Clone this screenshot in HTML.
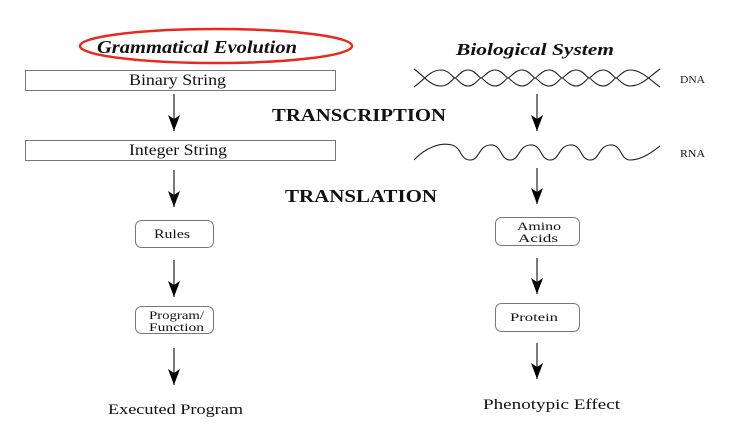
<!DOCTYPE html>
<html><head><style>
body{margin:0;background:#fff;width:748px;height:435px;overflow:hidden}
svg{display:block}
text{font-family:"Liberation Serif",serif;fill:#111}
</style></head><body>
<svg width="748" height="435" viewBox="0 0 748 435" xmlns="http://www.w3.org/2000/svg">
<defs><marker id="a" markerWidth="16" markerHeight="12" refX="16" refY="6" orient="auto" markerUnits="userSpaceOnUse"><path d="M0,0 L16,6 L0,12 L4,6 Z" fill="#000"/></marker></defs>
<ellipse cx="216" cy="46" rx="136" ry="17" fill="none" stroke="#e32b22" stroke-width="2.5"/>
<text x="97" y="53" font-size="18" font-weight="bold" font-style="italic" textLength="200" lengthAdjust="spacingAndGlyphs">Grammatical Evolution</text>
<text x="456" y="55" font-size="17" font-weight="bold" font-style="italic" textLength="158" lengthAdjust="spacingAndGlyphs">Biological System</text>
<rect x="25.5" y="70.5" width="310" height="20" fill="#fff" stroke="#777"/>
<text x="129" y="85" font-size="16" textLength="97" lengthAdjust="spacingAndGlyphs">Binary String</text>
<rect x="25.5" y="140.5" width="310" height="20" fill="#fff" stroke="#777"/>
<text x="129" y="155" font-size="16" textLength="98" lengthAdjust="spacingAndGlyphs">Integer String</text>
<text x="272" y="121" font-size="18" font-weight="bold" textLength="174" lengthAdjust="spacingAndGlyphs">TRANSCRIPTION</text>
<text x="285" y="202" font-size="18" font-weight="bold" textLength="152" lengthAdjust="spacingAndGlyphs">TRANSLATION</text>
<g stroke="#333" stroke-width="1.3" marker-end="url(#a)">
<line x1="174" y1="94" x2="174" y2="131"/>
<line x1="174" y1="170" x2="174" y2="207"/>
<line x1="174" y1="260" x2="174" y2="297"/>
<line x1="174" y1="348" x2="174" y2="385"/>
<line x1="537" y1="94" x2="537" y2="131"/>
<line x1="537" y1="168" x2="537" y2="204"/>
<line x1="537" y1="258" x2="537" y2="294"/>
<line x1="537" y1="343" x2="537" y2="379"/>
</g>
<rect x="135.5" y="220.5" width="78" height="27" rx="6" fill="#fff" stroke="#777"/>
<text x="154" y="238" font-size="12.5" textLength="36" lengthAdjust="spacingAndGlyphs">Rules</text>
<rect x="135.5" y="306.5" width="78" height="27" rx="6" fill="#fff" stroke="#777"/>
<text x="149" y="319" font-size="12" textLength="55" lengthAdjust="spacingAndGlyphs">Program/</text>
<text x="149" y="331" font-size="12" textLength="55" lengthAdjust="spacingAndGlyphs">Function</text>
<text x="108" y="414" font-size="15" textLength="135" lengthAdjust="spacingAndGlyphs">Executed Program</text>
<rect x="495.5" y="217.5" width="84" height="28" rx="6" fill="#fff" stroke="#777"/>
<text x="517" y="230" font-size="12" textLength="44" lengthAdjust="spacingAndGlyphs">Amino</text>
<text x="518" y="242" font-size="12" textLength="40" lengthAdjust="spacingAndGlyphs">Acids</text>
<rect x="495.5" y="303.5" width="84" height="28" rx="6" fill="#fff" stroke="#777"/>
<text x="510" y="321" font-size="12" textLength="48" lengthAdjust="spacingAndGlyphs">Protein</text>
<text x="483" y="409" font-size="15" textLength="137" lengthAdjust="spacingAndGlyphs">Phenotypic Effect</text>
<g fill="none" stroke="#222" stroke-width="1.1">
<path d="M414,87 C424,80 430,70 441,70 C449,70 453,78 455,78 C457,78 461,70 468,70 C475,70 479,78 481,78 C483,78 488,70 495,70 C502,70 506,78 508,78 C510,78 515,70 522,70 C529,70 533,78 535,78 C537,78 542,70 549,70 C556,70 560,78 562,78 C564,78 569,70 576,70 C583,70 587,78 589,78 C591,78 596,70 603,70 C610,70 614,78 616,78 C618,78 623,70 630,70 C642,70 650,80 660,87"/>
<path d="M414,69 C424,76 430,86 441,86 C449,86 453,78 455,78 C457,78 461,86 468,86 C475,86 479,78 481,78 C483,78 488,86 495,86 C502,86 506,78 508,78 C510,78 515,86 522,86 C529,86 533,78 535,78 C537,78 542,86 549,86 C556,86 560,78 562,78 C564,78 569,86 576,86 C583,86 587,78 589,78 C591,78 596,86 603,86 C610,86 614,78 616,78 C618,78 623,86 630,86 C642,86 650,76 660,69"/>
<path d="M414,160 C425,148 440,142 452,145 C462,148 460,160 470,160 C480,160 478,146 490,145 C502,144 500,160 510,160 C520,160 518,146 530,145 C542,144 540,160 550,160 C560,160 558,146 570,145 C582,144 580,160 590,160 C600,160 598,146 610,145 C622,144 620,160 630,160 C642,160 652,152 660,146"/>
</g>
<text x="680" y="83" font-size="11" textLength="25" lengthAdjust="spacingAndGlyphs">DNA</text>
<text x="680" y="157" font-size="11" textLength="25" lengthAdjust="spacingAndGlyphs">RNA</text>
</svg>
</body></html>
